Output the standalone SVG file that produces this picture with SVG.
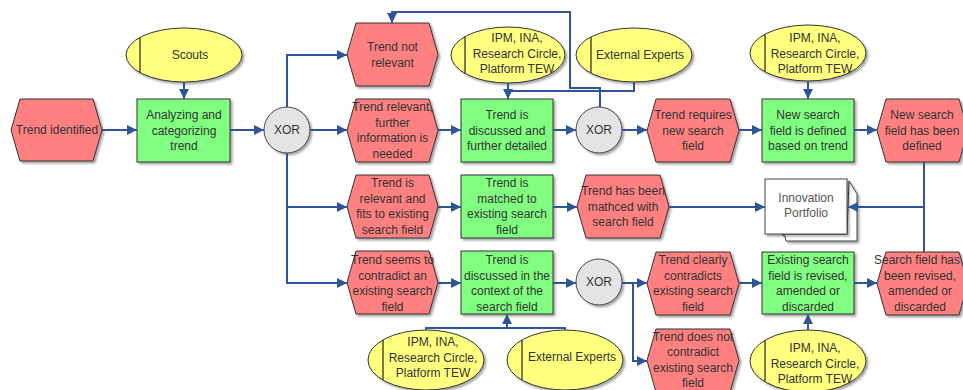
<svg xmlns="http://www.w3.org/2000/svg" width="963" height="390" viewBox="0 0 963 390">
<defs>
<style>
.ev{fill:#FF8080;stroke:#333;stroke-width:1}
.fn{fill:#80FF80;stroke:#333;stroke-width:1}
.org{fill:#FFFF80;stroke:#333;stroke-width:1}
.xor{fill:#E4E4E4;stroke:#444;stroke-width:1}
.info{fill:#FFFFFF;stroke:#444;stroke-width:1}
.vl{stroke:#222;stroke-width:1.2}
.sh{filter:url(#ds)}
text{font-family:"Liberation Sans",Arial,sans-serif;font-size:12px;fill:#333;text-anchor:middle}
.c{fill:none;stroke:#2F5597;stroke-width:2}
.ca{fill:none;stroke:#2F5597;stroke-width:2;marker-end:url(#ah)}
</style>
<filter id="ds" x="-10%" y="-10%" width="130%" height="130%">
<feDropShadow dx="2" dy="2" stdDeviation="1" flood-color="#000" flood-opacity="0.35"/>
</filter>
<marker id="ah" markerUnits="userSpaceOnUse" markerWidth="11" markerHeight="10" refX="10" refY="5" orient="auto">
<path d="M0,0 L10,5 L0,10 z" fill="#2F5597"/>
</marker>
</defs>
<rect width="963" height="390" fill="#FFFFFF"/>

<g id="ev-trend-identified"><polygon class="ev sh" points="11,130 20,99 93,99 102,130 93,161 20,161"/><text x="57" y="134">Trend identified</text></g>

<g id="org-scouts"><ellipse class="org sh" cx="184" cy="55" rx="58" ry="27"/><line class="vl" x1="140" y1="37.4" x2="140" y2="72.6"/><text x="190" y="59">Scouts</text></g>

<g id="fn-analyzing"><rect class="fn sh" x="137" y="99" width="93" height="63"/><text><tspan x="184" y="119">Analyzing and</tspan><tspan x="184" y="134.5">categorizing</tspan><tspan x="184" y="150">trend</tspan></text></g>

<g id="xor-1"><circle class="xor sh" cx="287" cy="130" r="23"/><text x="287" y="134">XOR</text></g>

<g id="ev-not-relevant"><polygon class="ev sh" points="347,54.5 356,23 429,23 438,54.5 429,86 356,86"/><text><tspan x="392.5" y="51">Trend not</tspan><tspan x="392.5" y="66.5">relevant</tspan></text></g>

<g id="ev-relevant-further"><polygon class="ev sh" points="347,130.5 356,99 429,99 438,130.5 429,162 356,162"/><text><tspan x="392.5" y="111">Trend relevant,</tspan><tspan x="392.5" y="126.5">further</tspan><tspan x="392.5" y="142">information is</tspan><tspan x="392.5" y="157.5">needed</tspan></text></g>

<g id="org-ipm-1"><ellipse class="org sh" cx="508" cy="55" rx="57" ry="28"/><line class="vl" x1="465" y1="36.6" x2="465" y2="73.4"/><text><tspan x="517" y="42">IPM, INA,</tspan><tspan x="517" y="57.5">Research Circle,</tspan><tspan x="517" y="73">Platform TEW</tspan></text></g>

<g id="org-external-1"><ellipse class="org sh" cx="634" cy="55" rx="58" ry="27"/><line class="vl" x1="591" y1="36.9" x2="591" y2="73.1"/><text x="640" y="59">External Experts</text></g>

<g id="fn-discussed"><rect class="fn sh" x="461" y="99" width="92" height="63"/><text><tspan x="507" y="119">Trend is</tspan><tspan x="507" y="134.5">discussed and</tspan><tspan x="507" y="150">further detailed</tspan></text></g>

<g id="xor-2"><circle class="xor sh" cx="599" cy="130" r="23"/><text x="599" y="134">XOR</text></g>

<g id="ev-requires-new"><polygon class="ev sh" points="647,130.5 656,99 730,99 739,130.5 730,162 656,162"/><text><tspan x="693" y="119">Trend requires</tspan><tspan x="693" y="134.5">new search</tspan><tspan x="693" y="150">field</tspan></text></g>

<g id="org-ipm-2"><ellipse class="org sh" cx="808" cy="53" rx="58" ry="28"/><line class="vl" x1="765" y1="34.2" x2="765" y2="71.8"/><text><tspan x="815" y="42">IPM, INA,</tspan><tspan x="815" y="57.5">Research Circle,</tspan><tspan x="815" y="73">Platform TEW</tspan></text></g>

<g id="fn-new-defined"><rect class="fn sh" x="762" y="99" width="92" height="63"/><text><tspan x="808" y="119">New search</tspan><tspan x="808" y="134.5">field is defined</tspan><tspan x="808" y="150">based on trend</tspan></text></g>

<g id="ev-new-has-been"><polygon class="ev sh" points="877,130.5 886,99 959,99 968,130.5 959,162 886,162"/><text><tspan x="922" y="119">New search</tspan><tspan x="922" y="134.5">field has been</tspan><tspan x="922" y="150">defined</tspan></text></g>

<g id="ev-relevant-fits"><polygon class="ev sh" points="347,206.5 356,175 429,175 438,206.5 429,238 356,238"/><text><tspan x="392.5" y="187">Trend is</tspan><tspan x="392.5" y="202.5">relevant and</tspan><tspan x="392.5" y="218">fits to existing</tspan><tspan x="392.5" y="233.5">search field</tspan></text></g>

<g id="fn-matched"><rect class="fn sh" x="461" y="175" width="92" height="63"/><text><tspan x="507" y="187">Trend is</tspan><tspan x="507" y="202.5">matched to</tspan><tspan x="507" y="218">existing search</tspan><tspan x="507" y="233.5">field</tspan></text></g>

<g id="ev-has-been-matched"><polygon class="ev sh" points="577,206.5 586,175 660,175 669,206.5 660,238 586,238"/><text><tspan x="623" y="195">Trend has been</tspan><tspan x="623" y="210.5">mathced with</tspan><tspan x="623" y="226">search field</tspan></text></g>

<g id="info-portfolio"><polygon class="info sh" points="785,236 781,234 847,234 849,181 857,194 857,241 786,241"/><rect class="info sh" x="765" y="179" width="82" height="55"/><text style="fill:#555"><tspan x="806" y="202">Innovation</tspan><tspan x="806" y="217">Portfolio</tspan></text></g>

<g id="ev-seems-contradict"><polygon class="ev sh" points="347,282.5 356,251 429,251 438,282.5 429,314 356,314"/><text><tspan x="392.5" y="264">Trend seems to</tspan><tspan x="392.5" y="279.5">contradict an</tspan><tspan x="392.5" y="295">existing search</tspan><tspan x="392.5" y="310.5">field</tspan></text></g>

<g id="fn-discussed-context"><rect class="fn sh" x="461" y="251" width="92" height="63"/><text><tspan x="507" y="264">Trend is</tspan><tspan x="507" y="279.5">discussed in the</tspan><tspan x="507" y="295">context of the</tspan><tspan x="507" y="310.5">search field</tspan></text></g>

<g id="xor-3"><circle class="xor sh" cx="599" cy="282" r="23"/><text x="599" y="286">XOR</text></g>

<g id="ev-clearly-contradicts"><polygon class="ev sh" points="647,283.5 656,252 730,252 739,283.5 730,315 656,315"/><text><tspan x="693" y="264">Trend clearly</tspan><tspan x="693" y="279.5">contradicts</tspan><tspan x="693" y="295">existing search</tspan><tspan x="693" y="310.5">field</tspan></text></g>

<g id="fn-revised"><rect class="fn sh" x="762" y="252" width="92" height="62"/><text><tspan x="808" y="264">Existing search</tspan><tspan x="808" y="279.5">field is revised,</tspan><tspan x="808" y="295">amended or</tspan><tspan x="808" y="310.5">discarded</tspan></text></g>

<g id="ev-revised"><polygon class="ev sh" points="877,283.5 886,252 959,252 968,283.5 959,315 886,315"/><text><tspan x="917" y="264">Search field has</tspan><tspan x="920" y="279.5">been revised,</tspan><tspan x="920" y="295">amended or</tspan><tspan x="920" y="310.5">discarded</tspan></text></g>

<g id="org-ipm-3"><ellipse class="org sh" cx="426" cy="360" rx="58" ry="30"/><line class="vl" x1="383" y1="339.9" x2="383" y2="380.1"/><text><tspan x="433" y="346">IPM, INA,</tspan><tspan x="433" y="361.5">Research Circle,</tspan><tspan x="433" y="377">Platform TEW</tspan></text></g>

<g id="org-external-2"><ellipse class="org sh" cx="565" cy="360" rx="58" ry="30"/><line class="vl" x1="522" y1="339.9" x2="522" y2="380.1"/><text x="572" y="361">External Experts</text></g>

<g id="ev-not-contradict"><polygon class="ev sh" points="647,360.5 656,329 730,329 739,360.5 730,392 656,392"/><text><tspan x="693" y="340.5">Trend does not</tspan><tspan x="693" y="356">contradict</tspan><tspan x="693" y="371.5">existing search</tspan><tspan x="693" y="387">field</tspan></text></g>

<g id="org-ipm-4"><ellipse class="org sh" cx="808" cy="361" rx="58" ry="31"/><line class="vl" x1="765" y1="340.2" x2="765" y2="381.8"/><text><tspan x="815" y="352">IPM, INA,</tspan><tspan x="815" y="367.5">Research Circle,</tspan><tspan x="815" y="383">Platform TEW</tspan></text></g>

<g id="connectors">
<path class="ca" d="M102,130 L137,130"/>
<path class="ca" d="M184,82 L184,99"/>
<path class="ca" d="M230,130 L264,130"/>
<path class="ca" d="M310,130 L347,130"/>
<path class="ca" d="M287,107 L287,55 L347,55"/>
<path class="ca" d="M287,153 L287,283 L347,283"/>
<path class="ca" d="M287,207 L347,207"/>
<path class="ca" d="M438,130 L461,130"/>
<path class="ca" d="M508,83 L508,99"/>
<path class="c" d="M634,82 L634,91 L508,91"/>
<path class="ca" d="M553,130 L576,130"/>
<path class="ca" d="M600,107 L600,88 L570,88 L570,12 L392,12 L392,23"/>
<path class="ca" d="M622,130 L647,130"/>
<path class="ca" d="M808,81 L808,99"/>
<path class="ca" d="M739,130 L762,130"/>
<path class="ca" d="M854,130 L877,130"/>
<path class="c" d="M924,162 L924,252"/>
<path class="ca" d="M924,207 L848,207"/>
<path class="ca" d="M438,207 L461,207"/>
<path class="ca" d="M553,207 L577,207"/>
<path class="ca" d="M669,207 L765,207"/>
<path class="ca" d="M438,283 L461,283"/>
<path class="ca" d="M553,283 L576,283"/>
<path class="ca" d="M622,283 L647,283"/>
<path class="ca" d="M633,283 L633,361 L647,361"/>
<path class="ca" d="M739,283 L762,283"/>
<path class="ca" d="M854,283 L877,283"/>
<path class="c" d="M426,330 L426,328 L565,328 L565,330"/>
<path class="ca" d="M507,328 L507,314"/>
<path class="ca" d="M808,330 L808,314"/>
</g>
</svg>
